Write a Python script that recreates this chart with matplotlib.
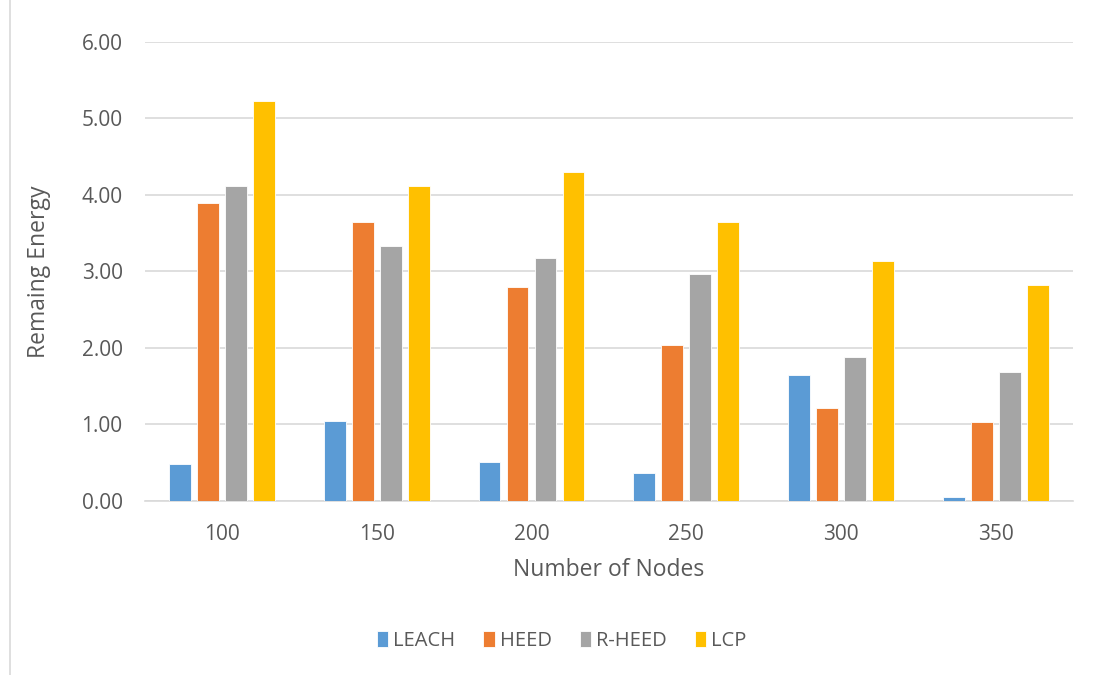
import numpy as np
import matplotlib.pyplot as plt
from matplotlib.lines import Line2D

# Data

nodes = ["100", "150", "200", "250", "300", "350"]
leach = [0.48, 1.05, 0.51, 0.36, 1.64, 0.05]
heed = [3.90, 3.65, 2.80, 2.04, 1.21, 1.03]
r_heed = [4.12, 3.33, 3.17, 2.96, 1.88, 1.68]
lcp = [5.23, 4.11, 4.30, 3.64, 3.14, 2.82]

series = [("LEACH", leach, "#5B9BD5"),
          ("HEED", heed, "#ED7D31"),
          ("R-HEED", r_heed, "#A5A5A5"),
          ("LCP", lcp, "#FFC000")]

plt.rcParams['font.family'] = ['Open Sans', 'DejaVu Sans']
text_color = "#595959"

fig = plt.figure(figsize=(10.97, 6.75), dpi=100)
ax = fig.add_axes([0.132, 0.258, 0.846, 0.680])

x = np.arange(len(nodes))
step = 0.181
width = 0.142
for i, (name, vals, color) in enumerate(series):
    ax.bar(x + (i - 1.5) * step, vals, width, color=color, label=name,
           edgecolor="white", linewidth=0.6, zorder=3)

ax.set_xlim(-0.5, len(nodes) - 0.5)
ax.set_ylim(0, 6)
ax.set_yticks(np.arange(0, 7, 1))
ax.set_yticklabels(["%.2f" % v for v in np.arange(0, 7, 1)])
ax.set_xticks(x)
ax.set_xticklabels(nodes)

ax.grid(axis="y", color="#D9D9D9", linewidth=1.2, zorder=0)
for s in ["top", "right", "left"]:
    ax.spines[s].set_visible(False)
ax.spines["bottom"].set_color("#D9D9D9")
ax.spines["bottom"].set_linewidth(1.2)
ax.tick_params(axis="both", length=0, labelsize=15, colors=text_color)
ax.tick_params(axis="y", pad=16)
ax.tick_params(axis="x", pad=17)

ax.set_xlabel("Number of Nodes", fontsize=16.5, color=text_color, labelpad=9)
ax.set_ylabel("Remaing Energy", fontsize=16.5, color=text_color, labelpad=22)

ax.legend(loc="center", bbox_to_anchor=(0.512, 0.05), bbox_transform=fig.transFigure,
          ncol=4, frameon=False, fontsize=14.5, labelcolor=text_color,
          handlelength=0.55, handleheight=0.85, handletextpad=0.25, columnspacing=1.4)

# chart border on the left edge
fig.add_artist(Line2D([0.0095, 0.0095], [0, 1], transform=fig.transFigure,
                      color="#D9D9D9", linewidth=1.2))

fig.savefig("out.png", dpi=100)
